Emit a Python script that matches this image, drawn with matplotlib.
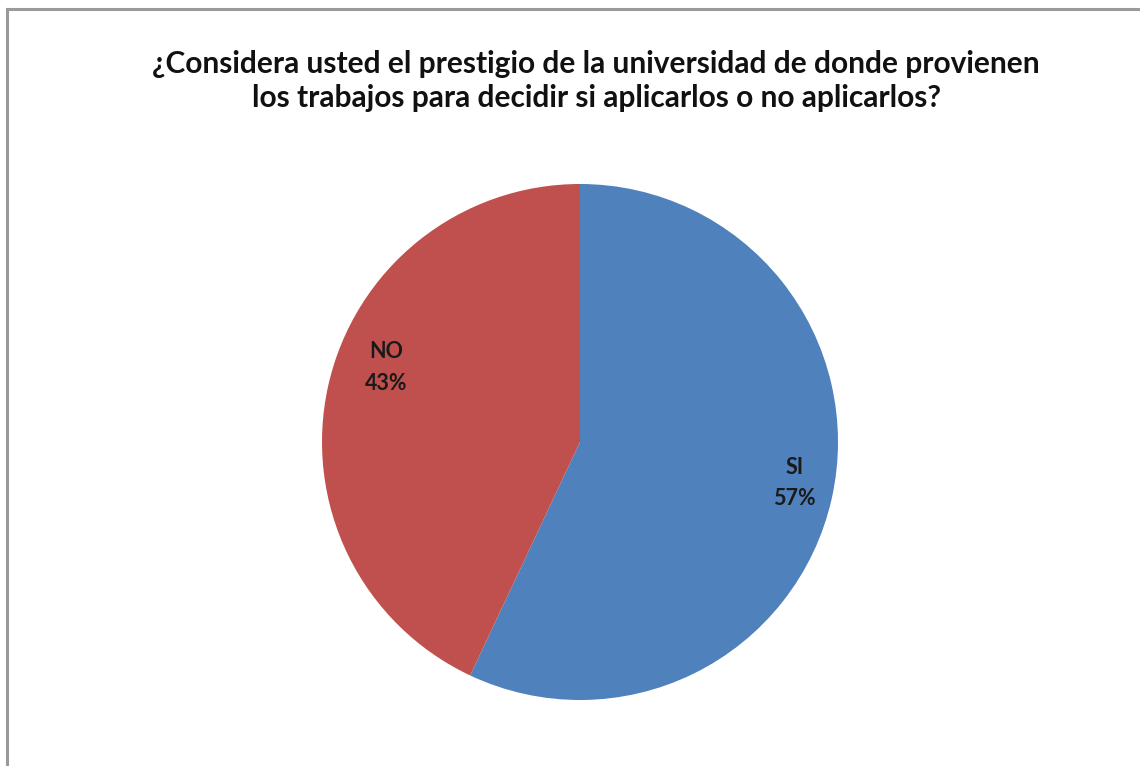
import matplotlib.pyplot as plt
from matplotlib.lines import Line2D

# Respuestas de la encuesta
categorias = ["SI", "NO"]
porcentajes = [57, 43]
colores = ["#4F81BD", "#C0504D"]
titulo = ("¿Considera usted el prestigio de la universidad de donde provienen\n"
          "los trabajos para decidir si aplicarlos o no aplicarlos?")


def main():
    plt.rcParams["font.family"] = ["Lato", "DejaVu Sans"]

    W, H = 1140, 766
    fig = plt.figure(figsize=(W / 100, H / 100), dpi=100)
    fig.patch.set_facecolor("white")

    # marco gris del área del gráfico (arriba e izquierda)
    fig.add_artist(Line2D([7 / W, 7 / W], [0, 1 - 9 / H], transform=fig.transFigure,
                          color="#9a9a9a", lw=2.2))
    fig.add_artist(Line2D([7 / W, 1], [1 - 9 / H, 1 - 9 / H], transform=fig.transFigure,
                          color="#9a9a9a", lw=2.2))

    cx, cy, r = 580, 442, 258
    ax = fig.add_axes([(cx - r) / W, (H - cy - r) / H, 2 * r / W, 2 * r / H])

    etiquetas = [f"{c}\n{p}%" for c, p in zip(categorias, porcentajes)]
    wedges, textos = ax.pie(porcentajes, colors=colores, startangle=90, counterclock=False,
                            labels=etiquetas, labeldistance=0.82,
                            wedgeprops=dict(linewidth=0),
                            textprops=dict(fontsize=15.5, fontweight="bold", color="#1a1a1a",
                                           ha="center", va="center",
                                           multialignment="center", linespacing=1.6))
    # ajuste fino de cada etiqueta ("mejor ajuste" de Excel)
    ajustes = [(0.03, 0.02), (0.05, 0.11)]
    for t, (dx, dy) in zip(textos, ajustes):
        x, y = t.get_position()
        t.set_position((x + dx, y + dy))
    ax.set_xlim(-1, 1)
    ax.set_ylim(-1, 1)
    ax.set_aspect("equal")
    ax.axis("off")

    fig.text(596 / W, 1 - 81 / H, titulo, ha="center", va="center", fontsize=21.5,
             fontweight="bold", color="#111111", linespacing=1.28)

    fig.savefig("out.png", dpi=100, facecolor="white")


if __name__ == "__main__":
    main()
